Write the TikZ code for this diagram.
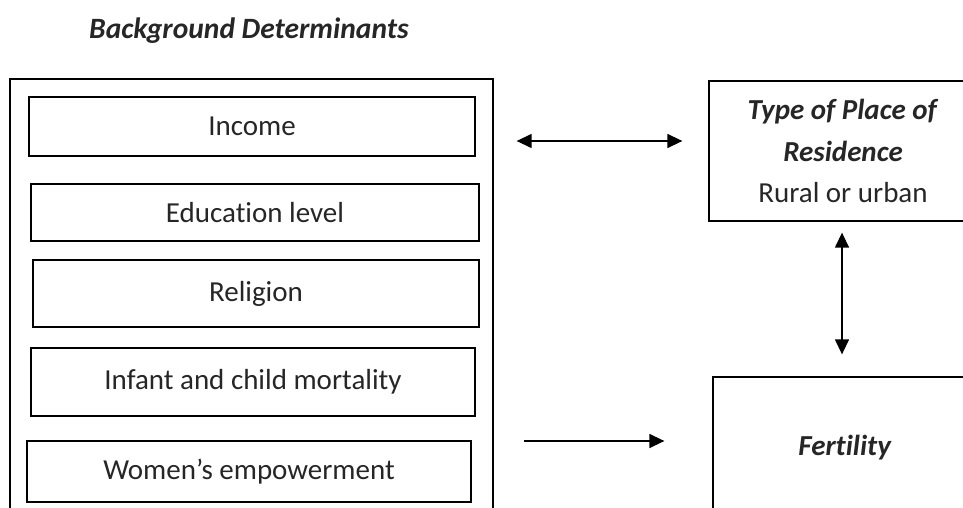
\documentclass[tikz,border=0pt]{standalone}
\usepackage{fontspec}
\setmainfont[Ligatures=NoCommon]{Carlito}
\usetikzlibrary{arrows.meta}
\begin{document}
\begin{tikzpicture}[x=1pt,y=-1pt,
  every node/.style={font=\fontsize{29}{41.5}\selectfont, inner sep=0pt, text=black!85},
  itembox/.style={draw, line width=1.3pt, rectangle},
  conn/.style={line width=1.4pt, {Triangle[length=15pt,width=14pt]}-{Triangle[length=15pt,width=14pt]}},
  oneway/.style={line width=1.4pt, -{Triangle[length=15pt,width=14pt]}}]
\useasboundingbox (0,0) rectangle (963,508);
\begin{scope}
\clip (0,0) rectangle (963,508);
\node[font=\fontsize{29.5}{41.5}\selectfont] (title) at (249,31) {\textbf{\textit{Background Determinants}}};
\node[itembox, minimum width=483pt, minimum height=440pt] (outer) at (251.5,299) {};
\node[itembox, minimum width=446pt, minimum height=59pt] (income) at (252,126.5) {Income};
\node[itembox, minimum width=448pt, minimum height=57pt] (edu) at (255,212.5) {Education level};
\node[itembox, minimum width=446pt, minimum height=67pt] (rel) at (256,293.5) {Religion};
\node[itembox, minimum width=444pt, minimum height=68pt] (inf) at (253,382) {Infant and child mortality};
\node[itembox, minimum width=444pt, minimum height=61pt] (wom) at (249,471.5) {Women’s empowerment};
\node[itembox, minimum width=268pt, minimum height=140pt, align=center] (type) at (843,151)
  {\textbf{\textit{Type of Place of}}\\\textbf{\textit{Residence}}\\Rural or urban};
\node[itembox, minimum width=264pt, minimum height=150pt] (fert) at (845,452) {};
\node (ferttext) at (845,448) {\textbf{\textit{Fertility}}};
\end{scope}
\coordinate (h1) at (outer.east |- 0,141);
\coordinate (h2) at (type.west |- 0,141);
\draw[conn, shorten <=23pt, shorten >=26pt] (h1) -- (h2);
\coordinate (v1) at (type.south -| 842,0);
\coordinate (v2) at (fert.north -| 842,0);
\draw[conn, shorten <=11pt, shorten >=22pt] (v1) -- (v2);
\coordinate (r1) at (outer.east |- 0,441);
\coordinate (r2) at (fert.west |- 0,441);
\draw[oneway, shorten <=30pt, shorten >=48pt] (r1) -- (r2);
\end{tikzpicture}
\end{document}
